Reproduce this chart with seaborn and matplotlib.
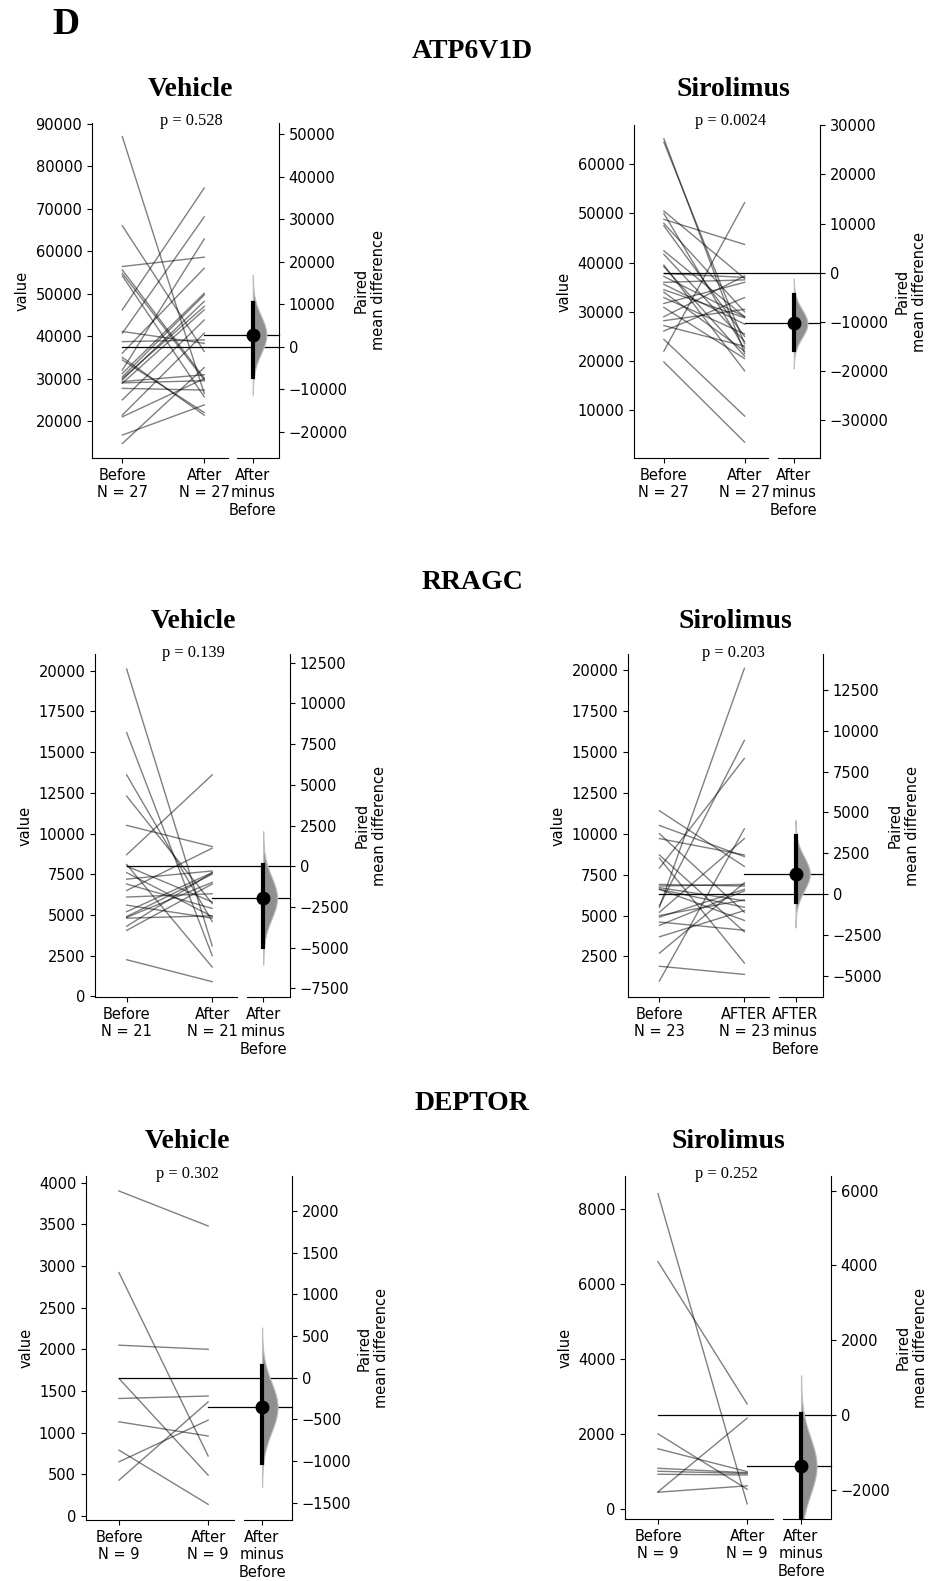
import numpy as np
import pandas as pd
import matplotlib
matplotlib.use("Agg")
import matplotlib.pyplot as plt
import matplotlib.transforms as mtransforms
from matplotlib.ticker import MultipleLocator
import seaborn as sns

# ---- values ----
# ATP6V1D
atp_veh_before = [87000, 66000, 56400, 55600, 54800, 54200, 46200, 41100, 40700, 38700, 36000, 34400, 32000, 31200,
                  30400, 29700, 29300, 28900, 27700, 25000, 21400, 21000, 16700, 14700, 35000, 30000, 29000]
atp_veh_after = [26500, 36400, 58600, 30100, 29700, 25700, 74900, 38300, 68100, 39100, 56000, 22000, 62900, 50100,
                 49700, 48200, 30900, 46200, 27300, 43800, 40700, 30000, 23800, 32600, 21400, 47000, 29500]
atp_sir_before = [65200, 64500, 50500, 50000, 48800, 48000, 47500, 42400, 41700, 37800, 39200, 39500, 36000, 34500,
                  37200, 35600, 34000, 32900, 31700, 29000, 30900, 28200, 27200, 26100, 24400, 22000, 19800]
atp_sir_after = [21500, 23500, 36800, 22500, 43700, 30000, 25000, 29000, 24000, 37000, 21000, 18000, 36500, 28800,
                 29000, 27500, 22000, 25500, 36000, 37300, 20500, 30500, 23000, 32900, 8800, 52200, 3500]
# RRAGC
rragc_veh_before = [20100, 16200, 13600, 12300, 10500, 8700, 8100, 8000, 7600, 7200, 6900, 6500, 6100, 5600,
                    5200, 4900, 4850, 4800, 4300, 4050, 2250]
rragc_veh_after = [3100, 2500, 4600, 5700, 9200, 13600, 1800, 5800, 4900, 7700, 5400, 9100, 6300, 4800,
                   7600, 7500, 7000, 4950, 7600, 6900, 900]
rragc_sir_before = [11400, 10500, 10000, 9700, 8700, 8500, 7900, 6900, 6600, 6800, 6600, 6700, 5500, 4900,
                    5200, 5600, 5000, 4600, 3700, 4400, 2700, 1900, 1000]
rragc_sir_after = [8000, 8600, 5200, 8700, 4000, 2100, 14600, 6800, 5500, 6900, 4700, 5900, 20100, 6600,
                   9700, 15700, 5950, 4100, 5300, 6500, 7000, 1400, 10300]
# DEPTOR
deptor_veh_before = [3900, 2920, 2050, 1650, 1410, 1130, 790, 650, 430]
deptor_veh_after = [3480, 720, 2000, 490, 1440, 960, 140, 1150, 1370]
deptor_sir_before = [8420, 6600, 2000, 1600, 1080, 1000, 920, 450, 440]
deptor_sir_after = [130, 2800, 520, 990, 960, 940, 900, 2420, 610]

genes = ["ATP6V1D", "RRAGC", "DEPTOR"]
groups = ["Vehicle", "Sirolimus"]
p_values = ["0.528", "0.0024", "0.139", "0.203", "0.302", "0.252"]
after_names = ["After", "After", "After", "AFTER", "After", "After"]
# 95% CI of the paired mean difference
ci_low = [-7100, -15700, -4960, -470, -1028, -2950]
ci_high = [10200, -4500, 60, 3550, 144, 20]

befores = [atp_veh_before, atp_sir_before, rragc_veh_before, rragc_sir_before, deptor_veh_before, deptor_sir_before]
afters = [atp_veh_after, atp_sir_after, rragc_veh_after, rragc_sir_after, deptor_veh_after, deptor_sir_after]

# ---- layout (pixels) ----
W, H = 930, 1581
main_boxes = [(92, 123, 228, 458), (634, 125, 768, 458), (95, 654, 237, 997),
              (628, 654, 769, 997), (86, 1176, 234, 1520), (625, 1176, 773, 1519)]
delta_boxes = [(237, 123, 279, 458), (778, 125, 820, 458), (247, 654, 290, 997),
               (779, 654, 823, 997), (244, 1176, 292, 1520), (783, 1176, 831, 1519)]
ylims = [(11300, 90200), (270, 68000), (-40, 21025), (20, 20980), (-48, 4080), (-276, 8890)]
main_steps = [10000, 10000, 2500, 2500, 500, 2000]
delta_steps = [10000, 10000, 2500, 2500, 500, 2000]
title_pos = [(190, 89), (733, 89), (193, 622), (735, 622), (187, 1142), (728, 1142)]
pval_pos = [(191, 121), (731, 121), (193, 653), (733, 653), (187, 1174), (726, 1174)]
gene_pos = [(472, 51), (472, 582), (472, 1103)]

plt.rcParams["font.size"] = 10.5
serif = "Liberation Serif"


def box(b):
    l, t, r, bt = b
    return [l / W, 1 - bt / H, (r - l) / W, (bt - t) / H]


fig = plt.figure(figsize=(W / 100, H / 100), dpi=100)

for i in range(6):
    before = np.array(befores[i], dtype=float)
    after = np.array(afters[i], dtype=float)
    n = len(before)
    df = pd.DataFrame({
        "id": list(range(n)) * 2,
        "x": [0] * n + [1] * n,
        "value": list(before) + list(after),
    })

    ax = fig.add_axes(box(main_boxes[i]))
    sns.lineplot(data=df, x="x", y="value", units="id", estimator=None,
                 color="black", alpha=0.5, lw=1, ax=ax, legend=False)
    ax.set_xlim(-0.37, 1.29)
    ax.set_ylim(*ylims[i])
    ax.yaxis.set_major_locator(MultipleLocator(main_steps[i]))
    ax.set_xticks([0, 1])
    ax.set_xticklabels([f"Before\nN = {n}", f"{after_names[i]}\nN = {n}"])
    ax.set_xlabel("")
    ax.set_ylabel("value")
    ax.spines["top"].set_visible(False)
    ax.spines["right"].set_visible(False)

    bm = before.mean()
    am = after.mean()
    diff = am - bm

    ax2 = fig.add_axes(box(delta_boxes[i]))
    ax2.patch.set_visible(False)
    ax2.set_xlim(-0.6, 1.0)
    ax2.set_ylim(ylims[i][0] - bm, ylims[i][1] - bm)
    ax2.yaxis.set_major_locator(MultipleLocator(delta_steps[i]))
    ax2.yaxis.tick_right()
    ax2.yaxis.set_label_position("right")
    ax2.set_ylabel("Paired\nmean difference")
    ax2.set_xticks([0])
    ax2.set_xticklabels([f"{after_names[i]}\nminus\nBefore"])
    ax2.spines["top"].set_visible(False)
    ax2.spines["left"].set_visible(False)

    # bootstrap distribution shape from estimate and CI
    sd = (ci_high[i] - ci_low[i]) / 3.92
    yy = np.linspace(diff - 3.2 * sd, diff + 3.2 * sd, 300)
    ww = np.exp(-0.5 * ((yy - diff) / sd) ** 2) * 0.52
    ax2.fill_betweenx(yy, 0, ww, facecolor="#8f8f8f", edgecolor="#bdbdbd", lw=0.8, zorder=1)
    ax2.plot([0, 0], [ci_low[i], ci_high[i]], color="black", lw=3, zorder=2)
    ax2.plot([0], [diff], "o", color="black", ms=9, zorder=3)

    # mean reference lines across both axes
    to_fig = ax.transData + fig.transFigure.inverted()
    x_before = to_fig.transform((0, 0))[0]
    x_after = to_fig.transform((1, 0))[0]
    x_end = (delta_boxes[i][2]) / W
    blend = mtransforms.blended_transform_factory(fig.transFigure, ax.transData)
    ax.plot([x_before, x_end], [bm, bm], color="black", lw=0.9, transform=blend, clip_on=False, zorder=4)
    ax.plot([x_after, x_end], [am, am], color="black", lw=0.9, transform=blend, clip_on=False, zorder=4)

    tx, ty = title_pos[i]
    fig.text(tx / W, 1 - ty / H, groups[i % 2], ha="center", va="center",
             family=serif, fontweight="bold", fontsize=20)
    px, py = pval_pos[i]
    fig.text(px / W, 1 - py / H, f"p = {p_values[i]}", ha="center", va="center",
             family=serif, fontsize=11.8)

for g, (gx, gy) in zip(genes, gene_pos):
    fig.text(gx / W, 1 - gy / H, g, ha="center", va="center", family=serif,
             fontweight="bold", fontsize=20)

fig.text(52 / W, 1 - 25 / H, "D", ha="left", va="center", family=serif,
         fontweight="bold", fontsize=27)

fig.savefig("out.png", dpi=100)
